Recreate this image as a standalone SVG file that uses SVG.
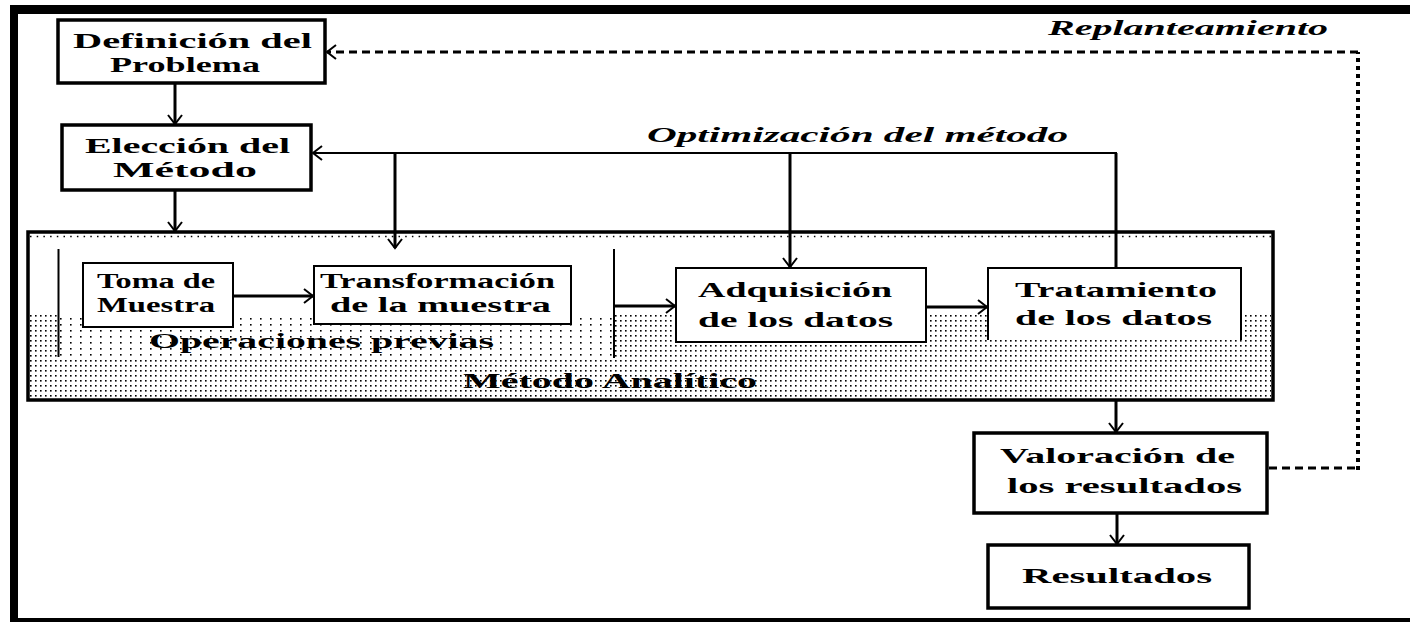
<svg xmlns="http://www.w3.org/2000/svg" width="1410" height="622" viewBox="0 0 1410 622">
<defs>
<style>
.box{fill:#fff;stroke:#000;stroke-width:3.5}
.thin{fill:#fff;stroke:#000;stroke-width:2}
.t{font-family:"Liberation Serif","Times New Roman",serif;font-weight:bold;font-size:22px;fill:#000}
.s{font-size:20px}
.i{font-style:italic}
.c{fill:none;stroke:#000;stroke-width:3}
.c2{fill:none;stroke:#000;stroke-width:2}
.dash{fill:none;stroke:#000;stroke-width:3;stroke-dasharray:8 5}
.dot{fill:none;stroke:#000;stroke-width:4;stroke-dasharray:4 4}
</style>
<marker id="ah" markerWidth="12" markerHeight="16" refX="10" refY="8" orient="auto" markerUnits="userSpaceOnUse">
<path d="M1,1 L10,8 L1,15" fill="none" stroke="#000" stroke-width="2"/>
</marker>
<pattern id="dense" width="5" height="5" patternUnits="userSpaceOnUse">
<rect x="0" y="0" width="1.6" height="1.6" fill="#000"/>
</pattern>
<pattern id="sparse" width="10" height="6" patternUnits="userSpaceOnUse">
<rect x="0" y="0" width="1.6" height="1.6" fill="#000"/>
</pattern>
</defs>
<rect width="1410" height="622" fill="#fff"/>
<g id="frame">
<rect x="10" y="5" width="1400" height="9" fill="#000"/>
<rect x="10" y="5" width="8" height="617" fill="#000"/>
<rect x="10" y="618" width="1400" height="4" fill="#000"/>
</g>
<g id="metodo-analitico">
<rect x="28" y="232" width="1245" height="168" fill="#fff"/>
<rect x="30" y="315" width="1241" height="83" fill="url(#dense)"/>
<rect x="60" y="315" width="553" height="42" fill="#fff"/>
<rect x="60" y="315" width="553" height="42" fill="url(#sparse)"/>
<line x1="30" y1="236.5" x2="1271" y2="236.5" stroke="#000" stroke-width="1.5" stroke-dasharray="1.5 5.2"/>
<rect x="28" y="232" width="1245" height="168" fill="none" stroke="#000" stroke-width="3.5"/>
<text class="t" x="463" y="388" textLength="294" lengthAdjust="spacingAndGlyphs" font-size="23">Método Analítico</text>
</g>
<g id="operaciones-previas">
<line x1="58.5" y1="249" x2="58.5" y2="357" stroke="#000" stroke-width="2"/>
<line x1="614" y1="249" x2="614" y2="358" stroke="#000" stroke-width="2"/>
<text class="t s" x="149" y="348" textLength="345" lengthAdjust="spacingAndGlyphs">Operaciones previas</text>
</g>
<g id="definicion">
<rect class="box" x="58" y="20" width="267" height="63"/>
<text class="t" x="73" y="48" textLength="239" lengthAdjust="spacingAndGlyphs">Definición del</text>
<text class="t" x="110" y="72" textLength="150" lengthAdjust="spacingAndGlyphs">Problema</text>
</g>
<g id="eleccion">
<rect class="box" x="62" y="125" width="249" height="65"/>
<text class="t" x="85" y="153" textLength="205" lengthAdjust="spacingAndGlyphs">Elección del</text>
<text class="t" x="113" y="177" textLength="144" lengthAdjust="spacingAndGlyphs">Método</text>
</g>
<g id="toma">
<rect class="thin" x="83" y="263" width="150" height="64"/>
<text class="t s" x="97" y="288" textLength="118" lengthAdjust="spacingAndGlyphs">Toma de</text>
<text class="t s" x="97" y="312" textLength="118" lengthAdjust="spacingAndGlyphs">Muestra</text>
</g>
<g id="transformacion">
<rect class="thin" x="314" y="266" width="257" height="58"/>
<text class="t s" x="320" y="288" textLength="235" lengthAdjust="spacingAndGlyphs">Transformación</text>
<text class="t s" x="330" y="312" textLength="221" lengthAdjust="spacingAndGlyphs">de la muestra</text>
</g>
<g id="adquisicion">
<rect class="thin" x="676" y="268" width="250" height="74"/>
<text class="t s" x="698" y="297" textLength="194" lengthAdjust="spacingAndGlyphs">Adquisición</text>
<text class="t s" x="698" y="327" textLength="195" lengthAdjust="spacingAndGlyphs">de los datos</text>
</g>
<g id="tratamiento">
<rect x="988" y="268" width="253" height="72" fill="#fff"/>
<path d="M988,340 V268 H1241 V340" class="c2"/>
<text class="t" x="1015" y="297" textLength="202" lengthAdjust="spacingAndGlyphs">Tratamiento</text>
<text class="t" x="1015" y="325" textLength="197" lengthAdjust="spacingAndGlyphs">de los datos</text>
</g>
<g id="valoracion">
<rect class="box" x="974" y="433" width="293" height="80"/>
<text class="t" x="1000" y="463" textLength="235" lengthAdjust="spacingAndGlyphs">Valoración de</text>
<text class="t" x="1007" y="493" textLength="235" lengthAdjust="spacingAndGlyphs">los resultados</text>
</g>
<g id="resultados">
<rect class="box" x="988" y="545" width="261" height="63"/>
<text class="t" x="1022" y="583" textLength="190" lengthAdjust="spacingAndGlyphs">Resultados</text>
</g>
<g id="connectors">
<line class="c" x1="175" y1="83" x2="175" y2="124" marker-end="url(#ah)"/>
<line class="c" x1="175" y1="190" x2="175" y2="231" marker-end="url(#ah)"/>
<path class="c2" d="M1116,266 V153 H313" marker-end="url(#ah)"/>
<line class="c" x1="1116" y1="153" x2="1116" y2="267"/>
<line class="c" x1="395" y1="153" x2="395" y2="248" marker-end="url(#ah)"/>
<line class="c" x1="790" y1="153" x2="790" y2="267" marker-end="url(#ah)"/>
<line class="c" x1="233" y1="296" x2="313" y2="296" marker-end="url(#ah)"/>
<line class="c" x1="614" y1="306" x2="675" y2="306" marker-end="url(#ah)"/>
<line class="c" x1="926" y1="307" x2="987" y2="307" marker-end="url(#ah)"/>
<line class="c" x1="1116" y1="401" x2="1116" y2="432" marker-end="url(#ah)"/>
<line class="c" x1="1117" y1="513" x2="1117" y2="544" marker-end="url(#ah)"/>
<line class="dash" x1="1269" y1="468" x2="1356" y2="468"/>
<line class="dot" x1="1358" y1="470" x2="1358" y2="52"/>
<line class="dash" x1="1358" y1="52" x2="327" y2="52" marker-end="url(#ah)"/>
<text class="t i" x="647" y="142" textLength="421" lengthAdjust="spacingAndGlyphs">Optimización del método</text>
<text class="t i s" x="1048" y="35" textLength="280" lengthAdjust="spacingAndGlyphs">Replanteamiento</text>
</g>
</svg>
